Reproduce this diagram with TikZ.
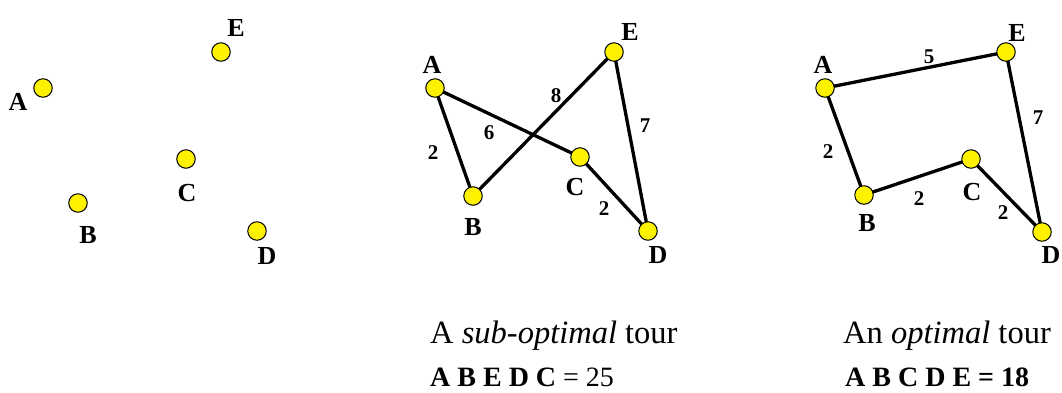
\documentclass[tikz,border=0pt]{standalone}
\usepackage{fontspec}
\setmainfont{Liberation Serif}
\begin{document}
\begin{tikzpicture}[x=1pt,y=-1pt,
  city/.style={circle,draw=black,fill=yellow,line width=1pt,minimum size=18.5pt,inner sep=0pt},
  lbl/.style={font=\fontsize{26}{26}\selectfont\bfseries,inner sep=0pt},
  wt/.style={font=\fontsize{21}{21}\selectfont\bfseries,inner sep=0pt},
  tourline/.style={line width=3.3pt,black},
  captxt/.style={font=\fontsize{32.5}{32.5}\selectfont,anchor=base west,inner sep=0pt},
  sumtxt/.style={font=\fontsize{28}{28}\selectfont,anchor=base west,inner sep=0pt}]
\useasboundingbox (0,0) rectangle (1062,392);
% Panel 1
\node[city] (pA) at (43,88) {};
\node[city] (pE) at (221,52) {};
\node[city] (pC) at (186,159) {};
\node[city] (pB) at (78,203) {};
\node[city] (pD) at (257,231) {};
\node[lbl] (lpA) at (18,102) {A};
\node[lbl] (lpE) at (236,28) {E};
\node[lbl] (lpC) at (187,193) {C};
\node[lbl] (lpB) at (88,235) {B};
\node[lbl] (lpD) at (267,256) {D};
% Panel 2
\coordinate (qA) at (435,88);
\coordinate (qE) at (614,52);
\coordinate (qC) at (580,157);
\coordinate (qB) at (473,196);
\coordinate (qD) at (648,231);
\draw[tourline] (qA) -- (qB) -- (qE) -- (qD) -- (qC) -- (qA);
\node[city] (nqA) at (qA) {};
\node[city] (nqE) at (qE) {};
\node[city] (nqC) at (qC) {};
\node[city] (nqB) at (qB) {};
\node[city] (nqD) at (qD) {};
\node[lbl] (lqA) at (432,65) {A};
\node[lbl] (lqE) at (630,32) {E};
\node[lbl] (lqC) at (575,187) {C};
\node[lbl] (lqB) at (473,227) {B};
\node[lbl] (lqD) at (658,255) {D};
\node[wt] (wq1) at (433,153) {2};
\node[wt] (wq2) at (489,133) {6};
\node[wt] (wq3) at (556,96) {8};
\node[wt] (wq4) at (645,126) {7};
\node[wt] (wq5) at (604,209) {2};
% Panel 3
\coordinate (rA) at (825,88);
\coordinate (rE) at (1006,52);
\coordinate (rC) at (971,159);
\coordinate (rB) at (864,195);
\coordinate (rD) at (1042,232);
\draw[tourline] (rA) -- (rB) -- (rC) -- (rD) -- (rE) -- (rA);
\node[city] (nrA) at (rA) {};
\node[city] (nrE) at (rE) {};
\node[city] (nrC) at (rC) {};
\node[city] (nrB) at (rB) {};
\node[city] (nrD) at (rD) {};
\node[lbl] (lrA) at (823,65) {A};
\node[lbl] (lrE) at (1017,33) {E};
\node[lbl] (lrC) at (972,192) {C};
\node[lbl] (lrB) at (867,223) {B};
\node[lbl] (lrD) at (1051,255) {D};
\node[wt] (wr1) at (929,57) {5};
\node[wt] (wr2) at (1038,118) {7};
\node[wt] (wr3) at (828,152) {2};
\node[wt] (wr4) at (919,199) {2};
\node[wt] (wr5) at (1003,213) {2};
% Captions
\node[captxt] (c1) at (430,343) {A \textit{sub-optimal} tour};
\node[sumtxt] (c2) at (430,386) {\textbf{A B E D C} = 25};
\node[captxt] (c3) at (843,343) {An \textit{optimal} tour};
\node[sumtxt] (c4) at (845,386) {\textbf{A B C D E = 18}};
\end{tikzpicture}
\end{document}
